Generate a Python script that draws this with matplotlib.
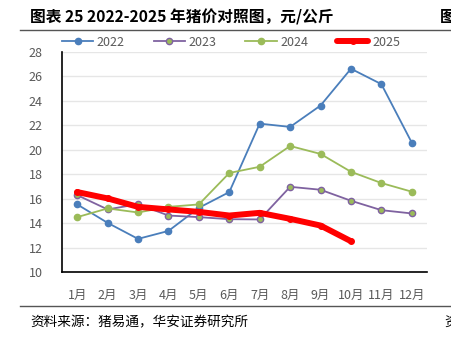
import matplotlib
matplotlib.use("Agg")
import matplotlib.pyplot as plt
from matplotlib.lines import Line2D

plt.rcParams['font.family'] = ['Noto Sans CJK SC', 'DejaVu Sans']

months = ["1月", "2月", "3月", "4月", "5月", "6月", "7月", "8月", "9月", "10月", "11月", "12月"]
y2022 = [15.53, 14.02, 12.71, 13.36, 15.25, 16.54, 22.14, 21.87, 23.62, 26.63, 25.37, 20.58]
y2023 = [16.29, 15.12, 15.55, 14.62, 14.49, 14.32, 14.30, 16.97, 16.73, 15.83, 15.06, 14.79]
y2024 = [14.49, 15.20, 14.87, 15.33, 15.53, 18.10, 18.61, 20.31, 19.66, 18.20, 17.28, 16.57]
y2025 = [16.54, 16.02, 15.33, 15.12, 14.92, 14.62, 14.84, 14.35, 13.80, 12.52]
yticks = [10, 12, 14, 16, 18, 20, 22, 24, 26, 28]

W, H = 451, 344
fig = plt.figure(figsize=(W / 100, H / 100), dpi=100)
ax = fig.add_axes([62 / W, 1 - 272 / H, (427 - 62) / W, (272 - 52) / H])

x = list(range(len(months)))
c22, c23, c24, c25 = "#4A7EBB", "#7F62A0", "#9BBB59", "#FF0000"
ax.plot(x, y2022, color=c22, lw=1.3, marker='o', ms=4.5, mfc=c22, mec=c22, label="2022", zorder=3)
ax.plot(x, y2023, color=c23, lw=1.3, marker='o', ms=4.5, mfc=c24, mec=c23, mew=1.0, label="2023", zorder=3)
ax.plot(x, y2024, color=c24, lw=1.3, marker='o', ms=4.5, mfc=c24, mec=c24, label="2024", zorder=3)
ax.plot(x[:len(y2025)], y2025, color=c25, lw=4.3, marker='o', ms=4, mfc=c25, mec=c25, label="2025", zorder=4,
        solid_capstyle='round')

ax.set_xlim(-0.5, len(months) - 0.5)
ax.set_ylim(10, 28)
ax.set_yticks(yticks)
ax.set_xticks(x)
ax.set_xticklabels(months)
ax.yaxis.grid(True, color="#E6E6E6", lw=1.0)
ax.set_axisbelow(True)
for s in ["top", "right"]:
    ax.spines[s].set_visible(False)
ax.spines["left"].set_color("black")
ax.spines["bottom"].set_color("black")
ax.spines["left"].set_linewidth(1.2)
ax.spines["bottom"].set_linewidth(1.2)
ax.tick_params(axis='both', length=0, labelsize=9, colors="#595959", pad=6)
ax.tick_params(axis='x', pad=12)
ax.tick_params(axis='y', pad=14)

leg = fig.legend(loc="center", bbox_to_anchor=(231 / W, 1 - 42 / H), ncol=4, frameon=False,
                 fontsize=9, handlelength=2.5, columnspacing=2.3, handletextpad=0.3)
for t in leg.get_texts():
    t.set_color("#595959")

fig.text(30 / W, 1 - 17 / H, "图表 25 2022-2025 年猪价对照图，元/公斤", fontsize=11.3, fontweight='bold',
         va='center', ha='left', color="black")
fig.text(440 / W, 1 - 17 / H, "图", fontsize=11.3, fontweight='bold', va='center', ha='left')
fig.add_artist(Line2D([20 / W, 1], [1 - 30 / H, 1 - 30 / H], color="#555555", lw=1.0))
fig.add_artist(Line2D([20 / W, 1], [1 - 306 / H, 1 - 306 / H], color="#555555", lw=1.0))
fig.text(30 / W, 1 - 322 / H, "资料来源：猪易通，华安证券研究所", fontsize=9.8, va='center', ha='left', color="black")
fig.text(444 / W, 1 - 322 / H, "资", fontsize=9.8, va='center', ha='left')

fig.savefig("out.png", dpi=100)
